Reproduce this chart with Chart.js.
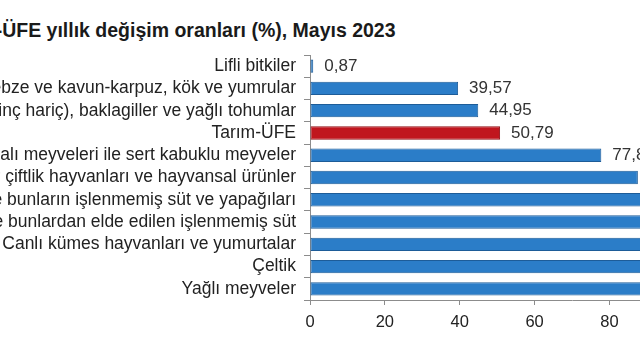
<!DOCTYPE html>
<html>
<head>
<meta charset="utf-8">
<script src="https://cdn.jsdelivr.net/npm/chart.js@4/dist/chart.umd.min.js"></script>
<style>
  html, body { margin: 0; padding: 0; background: #fff; overflow: hidden; width: 640px; height: 360px; }
  #title {
    position: absolute; left: -56px; top: 19px; white-space: nowrap;
    font: bold 19.5px "Liberation Sans", Arial, sans-serif; color: #1a1a1a;
  }
  #wrap { position: absolute; left: -120px; top: 0; }
</style>
</head>
<body>
<div id="title">Tarım-ÜFE yıllık değişim oranları (%), Mayıs 2023</div>
<div id="wrap"><canvas id="chart" width="980" height="360"></canvas></div>
<script>
// Categories, top to bottom
const categories = [
    'Lifli bitkiler',
    'Sebze ve kavun-karpuz, kök ve yumrular',
    'Tahıllar (pirinç hariç), baklagiller ve yağlı tohumlar',
    'Tarım-ÜFE',
    'Diğer ağaç ve çalı meyveleri ile sert kabuklu meyveler',
    'Diğer çiftlik hayvanları ve hayvansal ürünler',
    'Canlı koyun ve keçiler ile bunların işlenmemiş süt ve yapağıları',
    'Canlı sığır ve mandalar ile bunlardan elde edilen işlenmemiş süt',
    'Canlı kümes hayvanları ve yumurtalar',
    'Çeltik',
    'Yağlı meyveler'
];

// Annual change (%), last bars run past the picture edge so they are estimates
const values = [0.87, 39.57, 44.95, 50.79, 77.83, 87.6, 96.4, 101.2, 108.5, 116.3, 127.9];

const xTicks = [0, 20, 40, 60, 80, 100, 120, 140];

const colors = {
    blue: '#2b7dc8',
    blueEdge: '#1d5c98',
    red: '#c0161e',
    redEdge: '#8e0f15',
    text: '#222222',
    axis: '#8c8c8c'
};

const fontFamily = '"Liberation Sans", Arial, sans-serif';

function formatValue(v) {
    return v.toFixed(2).replace('.', ',');
}

// Draws the value at the end of each bar
const valueLabels = {
    id: 'valueLabels',
    afterDatasetsDraw(chart) {
        const ctx = chart.ctx;
        const meta = chart.getDatasetMeta(0);
        ctx.save();
        ctx.font = '17px ' + fontFamily;
        ctx.fillStyle = '#333333';
        ctx.textAlign = 'left';
        ctx.textBaseline = 'middle';
        meta.data.forEach((bar, i) => {
            ctx.fillText(formatValue(values[i]), bar.x + 11, bar.y);
        });
        ctx.restore();
    }
};

const barFill = categories.map(c => c === 'Tarım-ÜFE' ? colors.red : colors.blue);
const barEdge = categories.map(c => c === 'Tarım-ÜFE' ? colors.redEdge : colors.blueEdge);

new Chart(document.getElementById('chart'), {
    type: 'bar',
    data: {
        labels: categories,
        datasets: [{
            data: values,
            backgroundColor: barFill,
            borderColor: barEdge,
            borderWidth: 1,
            borderSkipped: false,
            barPercentage: 0.6,
            categoryPercentage: 1
        }]
    },
    options: {
        indexAxis: 'y',
        responsive: false,
        animation: false,
        layout: { padding: { top: 55, right: 26, left: 0, bottom: 0 } },
        plugins: {
            legend: { display: false },
            tooltip: { enabled: false }
        },
        scales: {
            x: {
                min: 0,
                max: 140,
                afterBuildTicks: s => { s.ticks = xTicks.map(v => ({ value: v })); },
                afterFit: s => { s.height = 60; },
                border: { color: colors.axis, width: 1 },
                grid: { drawOnChartArea: false, color: colors.axis, tickLength: 5 },
                ticks: { color: colors.text, padding: 8, font: { size: 16.5, family: fontFamily } }
            },
            y: {
                afterFit: s => { s.width = 430; },
                border: { color: colors.axis, width: 1 },
                grid: { drawOnChartArea: false, offset: true, color: colors.axis, tickLength: 6 },
                ticks: { color: colors.text, padding: 8, autoSkip: false, font: { size: 17.5, family: fontFamily } }
            }
        }
    },
    plugins: [valueLabels]
});
</script>
</body>
</html>
